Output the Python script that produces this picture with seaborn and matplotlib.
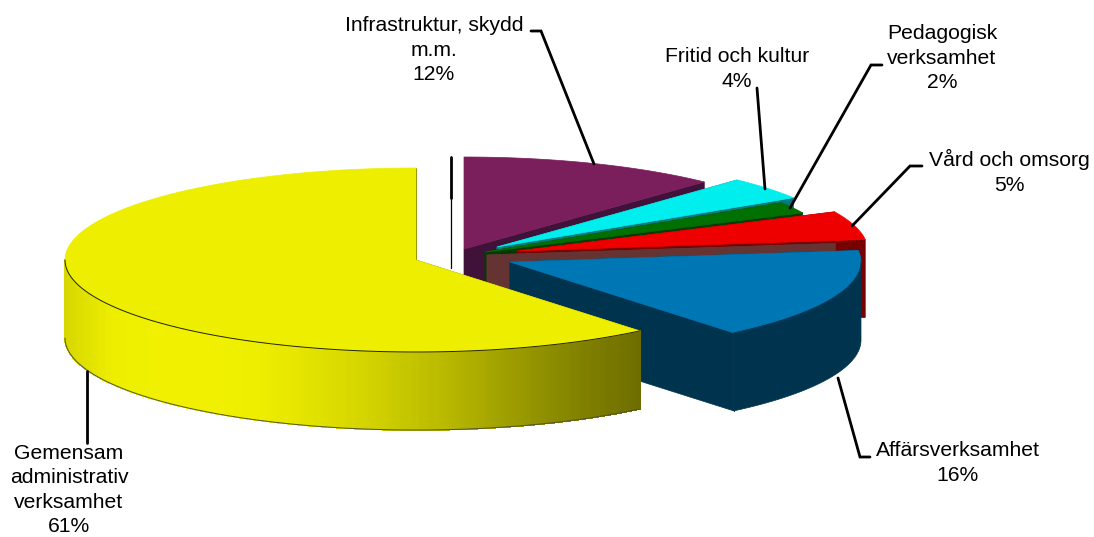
import numpy as np
import matplotlib
matplotlib.use('Agg')
import matplotlib.pyplot as plt
import seaborn as sns
from matplotlib.patches import Polygon

# --- DATA ---
NAMES = ["Infrastruktur, skydd\nm.m.", "Fritid och kultur", "Pedagogisk\nverksamhet",
         "Vård och omsorg", "", "Affärsverksamhet",
         "Gemensam\nadministrativ\nverksamhet"]
VALUES = [12, 4, 2, 5, 0, 16, 61]

# --- STYLE ---
TOP_COLORS = ["#7A1F5C", "#00EEEE", "#007000", "#EE0000", "#663333", "#0077B5", "#EEEE00"]
SIDE_COLORS = ["#40123A", "#007A80", "#003C00", "#770000", "#663333", "#00334D", "#6E6E00"]
SHADE = ["#D8D800", "#EEEE00", "#F0F000", "#F0F000", "#EEEE00", "#E4E400", "#D8D800",
         "#C8C800", "#B8B800", "#A4A400", "#909000", "#7E7E00", "#6E6E00"]
APEX = [(464, 249), (497, 247), (485, 252), (517, 251), (487, 255), (510, 262), (416, 260)]
RX, RY, DEPTH = 351, 92, 78

LABEL_POS = [(434, 50), (737, 69), (942, 58), (1009, 172), None, (958, 463), (69, 490)]
LEADERS = [
    [(531, 31), (541, 31), (594, 164)],
    [(757, 88), (765, 189)],
    [(882, 65), (871, 65), (790, 208)],
    [(922, 166), (910, 166), (852, 226)],
    None,
    [(870, 457), (860, 457), (838, 378)],
    [(87, 371), (87, 443)],
]

sns.set_theme(style="white")
plt.rcParams['font.family'] = ['Liberation Sans', 'DejaVu Sans']

fig = plt.figure(figsize=(10.94, 5.37), dpi=100)
ax = fig.add_axes([0, 0, 1, 1])
ax.set_xlim(0, 1094)
ax.set_ylim(537, 0)
ax.axis('off')


def rim(apex, a1, a2, n=120):
    """Points on the top rim between two angles (degrees)."""
    t = np.radians(np.linspace(a1, a2, n))
    return np.column_stack([apex[0] + RX * np.cos(t), apex[1] - RY * np.sin(t)])


def drop(pts):
    return pts + np.array([0, DEPTH])


def outer_wall(apex, hi, lo, color, shaded):
    """Front part of the slice's curved side."""
    if hi <= lo:
        return
    if not shaded:
        top = rim(apex, hi, lo)
        ax.add_patch(Polygon(np.vstack([top, drop(top)[::-1]]), fc=color, ec=color, lw=0.5))
        return
    # gradient side: bright on the left, dark olive on the right
    steps = 200
    edges = np.linspace(lo, hi, steps + 1)
    ramp = sns.blend_palette(SHADE, steps)
    xs = apex[0] + RX * np.cos(np.radians((edges[:-1] + edges[1:]) / 2))
    span = xs.max() - xs.min()
    for i in range(steps):
        c = ramp[int((xs[i] - xs.min()) / span * (steps - 1))]
        top = rim(apex, edges[i], edges[i + 1], 4)
        ax.add_patch(Polygon(np.vstack([top, drop(top)[::-1]]), fc=c, ec=c, lw=0.6, antialiased=False))
    ax.plot(*drop(rim(apex, hi, lo)).T, color="#55552A", lw=0.7)


# back to front, so nearer slices cover what is behind them
cum = 0
for name, val, top_c, side_c, apex in zip(NAMES, VALUES, TOP_COLORS, SIDE_COLORS, APEX):
    a1 = 90 - cum * 3.6
    a2 = a1 - val * 3.6
    cum += val
    ap = np.array(apex, dtype=float)

    # flat cut walls
    for a in (a1, a2):
        edge = np.vstack([ap, rim(apex, a, a, 1)])
        ax.add_patch(Polygon(np.vstack([edge, drop(edge)[::-1]]), fc=side_c, ec=side_c, lw=0.5))

    if val == 0:
        continue

    hi, lo = min(a1, 0), max(a2, -180)
    outer_wall(apex, hi, lo, side_c, val == max(VALUES))

    arc = rim(apex, a1, a2)
    ax.add_patch(Polygon(np.vstack([ap, arc]), fc=top_c, ec=top_c, lw=0.5))

    # dark seam between top and side, front part only
    if hi > lo:
        ax.plot(*rim(apex, hi, lo).T, color="#222200" if val == max(VALUES) else side_c, lw=0.7)

    # corner of the side wall
    if a2 < 0 and a2 > -180:
        p = rim(apex, a2, a2, 1)[0]
        ax.plot([p[0], p[0]], [p[1], p[1] + DEPTH], color=side_c, lw=0.8)

# stray mark left of the purple slice
ax.plot([451, 451], [157, 198], color="black", lw=2)
ax.plot([451, 451], [198, 268], color="black", lw=0.9)

for path in LEADERS:
    if path:
        ax.plot(*zip(*path), color="black", lw=2, solid_joinstyle='miter')

for name, val, pos in zip(NAMES, VALUES, LABEL_POS):
    if pos:
        ax.text(pos[0], pos[1], f"{name}\n{val}%", ha='center', va='center',
                fontsize=15.2, color="black", linespacing=1.37)

fig.savefig("out.png", dpi=100)
plt.close(fig)
